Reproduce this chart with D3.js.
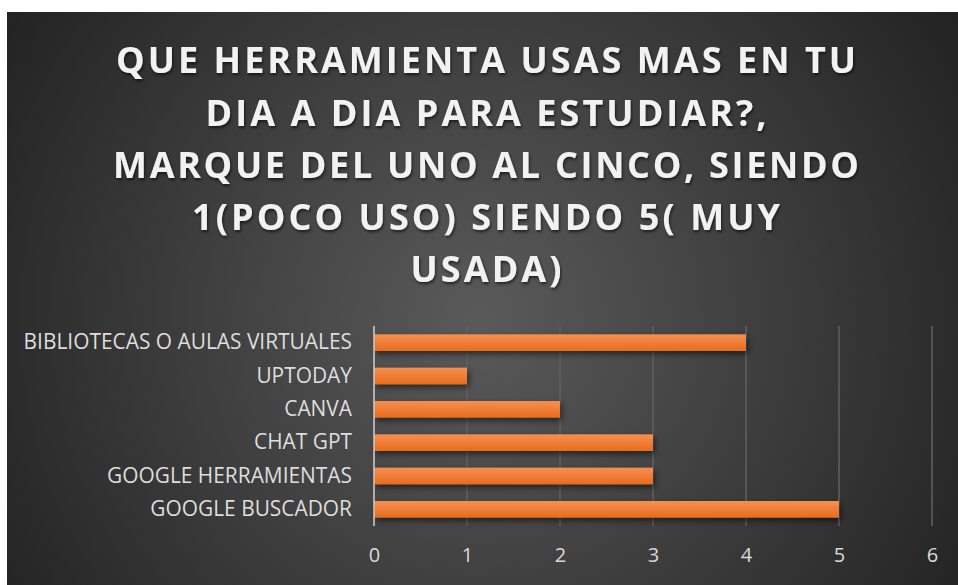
<!DOCTYPE html>
<html><head><meta charset="utf-8">
<script src="https://cdnjs.cloudflare.com/ajax/libs/d3/7.8.5/d3.min.js"></script>
<style>html,body{margin:0;padding:0;background:#fff;}svg{display:block;}</style>
</head><body>
<script>
const titleLines = ["QUE HERRAMIENTA USAS MAS EN TU", "DIA A DIA PARA ESTUDIAR?,", "MARQUE DEL UNO AL CINCO, SIENDO", "1(POCO USO) SIENDO 5( MUY", "USADA)"];
const categories = ["BIBLIOTECAS O AULAS VIRTUALES", "UPTODAY", "CANVA", "CHAT GPT", "GOOGLE HERRAMIENTAS", "GOOGLE BUSCADOR"];
const values = [4, 1, 2, 3, 3, 5];
const xTicks = [0, 1, 2, 3, 4, 5, 6];

const W = 958, H = 585;
const svg = d3.select("body").append("svg").attr("width", W).attr("height", H);
const defs = svg.append("defs");
const rg = defs.append("radialGradient").attr("id", "bg").attr("gradientUnits", "userSpaceOnUse")
  .attr("cx", 480).attr("cy", 320).attr("r", 560);
rg.append("stop").attr("offset", "0").attr("stop-color", "#5a5a5a");
rg.append("stop").attr("offset", "1").attr("stop-color", "#232323");
const bg = defs.append("linearGradient").attr("id", "bar").attr("x1", 0).attr("y1", 0).attr("x2", 0).attr("y2", 1);
bg.append("stop").attr("offset", "0").attr("stop-color", "#f68f52");
bg.append("stop").attr("offset", "1").attr("stop-color", "#e86c1c");
const f = defs.append("filter").attr("id", "sh").attr("x", "-10%").attr("y", "-50%").attr("width", "130%").attr("height", "250%");
f.append("feDropShadow").attr("dx", 2).attr("dy", 3).attr("stdDeviation", 3).attr("flood-color", "#000").attr("flood-opacity", 0.55);
const tf = defs.append("filter").attr("id", "tsh").attr("x", "-5%").attr("y", "-20%").attr("width", "110%").attr("height", "150%");
tf.append("feDropShadow").attr("dx", 1).attr("dy", 2).attr("stdDeviation", 1.5).attr("flood-color", "#000").attr("flood-opacity", 0.6);

svg.append("rect").attr("x", 7).attr("y", 12).attr("width", W - 7).attr("height", H - 12).attr("fill", "url(#bg)");

// title
const lineY = [73, 126, 178, 230, 282];
const lineW = [740, 561, 746, 588, 151];
const tg = svg.append("g").attr("filter", "url(#tsh)");
titleLines.forEach((t, i) => {
  tg.append("text").attr("x", 486).attr("y", lineY[i]).attr("text-anchor", "middle")
    .attr("font-family", "'Open Sans', Lato, sans-serif").attr("font-weight", "bold").attr("font-size", 36)
    .attr("fill", "#f2f2f2").attr("textLength", lineW[i]).attr("lengthAdjust", "spacing").text(t);
});

const x = d3.scaleLinear().domain([0, 6]).range([374, 932]);
const y = d3.scaleBand().domain(categories).range([326, 526]).paddingInner(0.5).paddingOuter(0.25);

// gridlines
svg.append("g").selectAll("line").data(xTicks.slice(1)).join("line")
  .attr("x1", d => x(d)).attr("x2", d => x(d)).attr("y1", 326).attr("y2", 526)
  .attr("stroke", "#606060").attr("stroke-width", 1.5);

// bars
svg.append("g").selectAll("rect").data(categories).join("rect")
  .attr("x", x(0)).attr("y", d => y(d)).attr("width", (d, i) => x(values[i]) - x(0)).attr("height", y.bandwidth())
  .attr("fill", "url(#bar)").attr("filter", "url(#sh)");

// axis line
svg.append("line").attr("x1", x(0)).attr("x2", x(0)).attr("y1", 326).attr("y2", 526)
  .attr("stroke", "#c8c8c8").attr("stroke-width", 2).attr("opacity", 0.8);

// category labels
const yAxis = d3.axisLeft(y).tickSize(0).tickPadding(22);
const ya = svg.append("g").attr("transform", `translate(${x(0)},0)`).call(yAxis);
ya.select(".domain").remove();
ya.selectAll("text").attr("font-family", "'Open Sans', sans-serif").attr("font-size", 20.9).attr("fill", "#dedede");

// x axis labels
const xAxis = d3.axisBottom(x).tickValues(xTicks).tickFormat(d3.format("d")).tickSize(0).tickPadding(22);
const xa = svg.append("g").attr("transform", `translate(0,526)`).call(xAxis);
xa.select(".domain").remove();
xa.selectAll("text").attr("font-family", "'Open Sans', sans-serif").attr("font-size", 20).attr("fill", "#d9d9d9");
</script>
</body></html>
